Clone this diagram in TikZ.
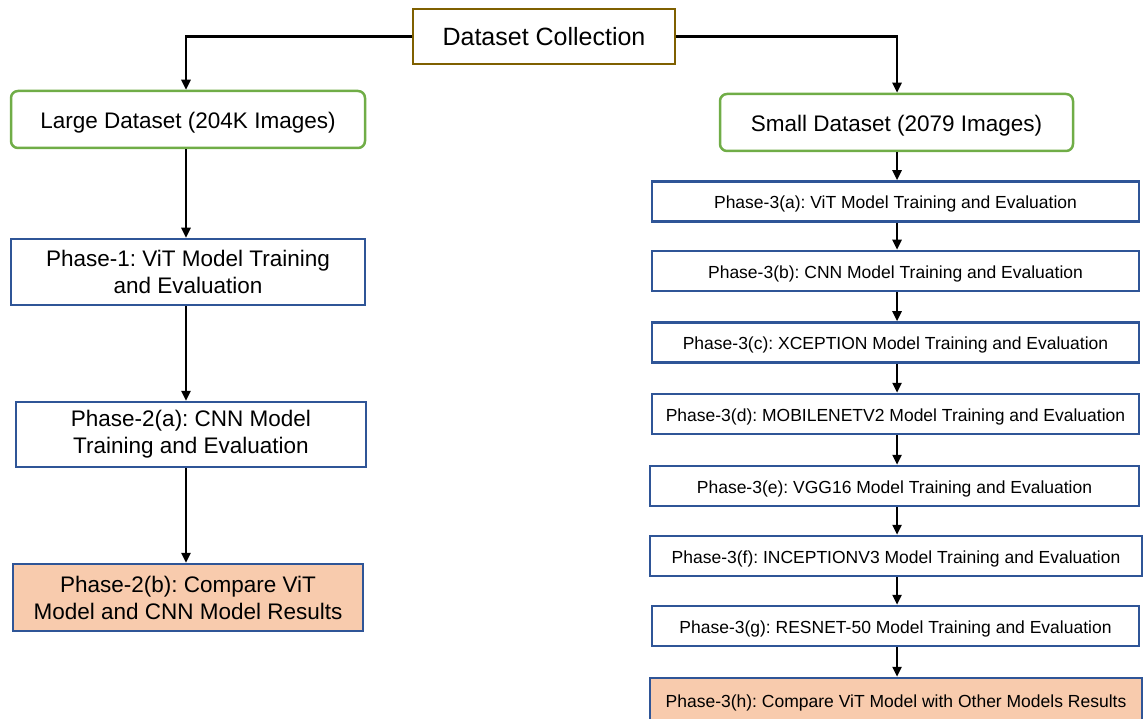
\documentclass[tikz,border=0pt]{standalone}
\usepackage{fontspec}
\setmainfont{Liberation Sans}
\frenchspacing
\usetikzlibrary{arrows.meta}
\definecolor{boxblue}{HTML}{2F5597}
\definecolor{boxgreen}{HTML}{70AD47}
\definecolor{boxgold}{HTML}{7F6000}
\definecolor{peach}{HTML}{F8CBAD}
\tikzset{
  basebox/.style={draw, line width=2.5pt, inner sep=0pt, align=center},
  topbox/.style={basebox, draw=boxgold, font=\fontsize{25}{30}\selectfont},
  setbox/.style={basebox, draw=boxgreen, rounded corners=7pt, text height=19pt, text depth=1.5pt, font=\fontsize{22.5}{27}\selectfont},
  phasebox/.style={basebox, draw=boxblue, font=\fontsize{22.5}{27}\selectfont},
  stagebox/.style={basebox, draw=boxblue, text height=15.5pt, text depth=1pt, font=\fontsize{17.5}{21}\selectfont},
  resultbox/.style={fill=peach},
  arr/.style={line width=2.4pt, -{Triangle[length=10pt,width=9pt]}}
}
\begin{document}
\begin{tikzpicture}[x=1pt,y=-1pt]
\useasboundingbox (0,0) rectangle (1143,719);

% source
\node[topbox, minimum width=262, minimum height=55] (dc) at (544,36.5) {Dataset Collection};

% left branch
\node[setbox, minimum width=354, minimum height=57] (ld) at (188,119.5) {Large Dataset (204K Images)};
\node[phasebox, minimum width=354, minimum height=66] (p1) at (188,272) {Phase-1: ViT Model Training\\and Evaluation};
\node[phasebox, minimum width=350, minimum height=65] (p2a) at (191,434.5) {Phase-2(a): CNN Model\\Training and Evaluation};
\node[phasebox, resultbox, minimum width=350, minimum height=67] (p2b) at (188,597.5) {Phase-2(b): Compare ViT\\Model and CNN Model Results};

% right branch
\node[setbox, minimum width=353, minimum height=57] (sd) at (896.5,122.5) {Small Dataset (2079 Images)};
\node[stagebox, minimum width=487, minimum height=40] (p3a) at (895.5,201.5) {Phase-3(a): ViT Model Training and Evaluation};
\node[stagebox, minimum width=487, minimum height=40] (p3b) at (895.5,271) {Phase-3(b): CNN Model Training and Evaluation};
\node[stagebox, minimum width=487, minimum height=40] (p3c) at (895.5,342.5) {Phase-3(c): XCEPTION Model Training and Evaluation};
\node[stagebox, minimum width=487, minimum height=40] (p3d) at (895.5,414) {Phase-3(d): MOBILENETV2 Model Training and Evaluation};
\node[stagebox, minimum width=489, minimum height=40] (p3e) at (894.5,486) {Phase-3(e): VGG16 Model Training and Evaluation};
\node[stagebox, minimum width=492, minimum height=40] (p3f) at (896,556) {Phase-3(f): INCEPTIONV3 Model Training and Evaluation};
\node[stagebox, minimum width=487, minimum height=40] (p3g) at (895.5,626) {Phase-3(g): RESNET-50 Model Training and Evaluation};
\node[stagebox, resultbox, minimum width=492, minimum height=44] (p3h) at (896,700) {Phase-3(h): Compare ViT Model with Other Models Results};

% connector columns
\coordinate (lx) at (186,0);
\coordinate (rx) at (897,0);

\draw[arr] (dc.west) -| (ld.north -| lx);
\draw[arr] (dc.east) -| (sd.north -| rx);

\draw[arr] (ld.south -| lx) -- (p1.north -| lx);
\draw[arr] (p1.south -| lx) -- (p2a.north -| lx);
\draw[arr] (p2a.south -| lx) -- (p2b.north -| lx);

\draw[arr] (sd.south -| rx) -- (p3a.north -| rx);
\draw[arr] (p3a.south -| rx) -- (p3b.north -| rx);
\draw[arr] (p3b.south -| rx) -- (p3c.north -| rx);
\draw[arr] (p3c.south -| rx) -- (p3d.north -| rx);
\draw[arr] (p3d.south -| rx) -- (p3e.north -| rx);
\draw[arr] (p3e.south -| rx) -- (p3f.north -| rx);
\draw[arr] (p3f.south -| rx) -- (p3g.north -| rx);
\draw[arr] (p3g.south -| rx) -- (p3h.north -| rx);
\end{tikzpicture}
\end{document}
